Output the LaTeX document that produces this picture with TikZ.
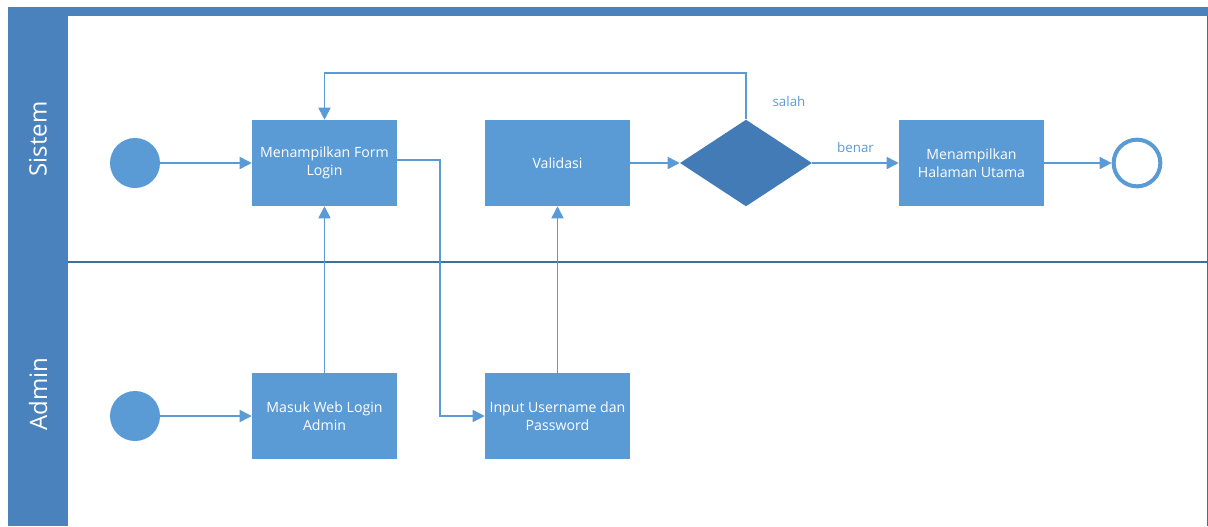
\documentclass[tikz,border=0pt]{standalone}
\usepackage{fontspec}
\setmainfont{Open Sans}
\usetikzlibrary{positioning, shapes.geometric, arrows.meta}
\definecolor{lanehead}{HTML}{4A82BD}
\definecolor{boxblue}{HTML}{5B9BD5}
\definecolor{decblue}{HTML}{427BB5}
\definecolor{linkblue}{HTML}{5B9BD5}
\definecolor{divline}{HTML}{3F6F9A}

\tikzset{
  proc/.style={draw=none, fill=boxblue, minimum width=108.75pt, minimum height=64.5pt,
    inner sep=1pt, align=center, text=white, font=\fontsize{10.6}{13.5}\selectfont},
  startev/.style={circle, fill=boxblue, minimum size=37.5pt, inner sep=0pt},
  endev/.style={circle, draw=boxblue, line width=3pt, fill=white, minimum size=35pt, inner sep=0pt},
  decision/.style={diamond, fill=decblue, minimum width=99pt, minimum height=65pt, inner sep=0pt},
  flow/.style={draw=linkblue, line width=1.2pt, -{Triangle[length=9pt,width=9pt]}},
  lanelabel/.style={rotate=90, text=white, font=\fontsize{18}{21}\selectfont},
  guard/.style={text=linkblue, font=\fontsize{10}{12}\selectfont}
}

\begin{document}
\begin{tikzpicture}[x=0.75pt, y=-0.75pt]
  \useasboundingbox[fill=white] (0,0) rectangle (1208,526);
  % pool frame
  \fill[lanehead] (8,7) rectangle (1208,16);
  \fill[lanehead] (8,7) rectangle (68,526);
  \draw[divline, line width=0.8pt] (68,262) -- (1208,262);
  \draw[divline, line width=0.6pt] (1207.5,16) -- (1207.5,526);
  \node[lanelabel] (sistem) at (38,139) {Sistem};
  \node[lanelabel] (admin) at (38,394) {Admin};

  % Sistem lane
  \node[startev] (s0) at (135,163) {};
  \node[proc] (form) at (324.5,163) {Menampilkan Form\\Login};
  \node[proc] (valid) at (557.5,163) {Validasi};
  \node[decision] (cek) at (746,163) {};
  \node[proc] (home) at (971.5,163) {Menampilkan\\Halaman Utama};
  \node[endev] (s1) at (1137,163) {};

  % Admin lane
  \node[startev] (a0) at (135,416) {};
  \node[proc] (masuk) at (324.5,416) {Masuk Web Login\\Admin};
  \node[proc] (input) at (557.5,416) {Input Username dan\\Password};

  \coordinate (loop) at (746,73);
  \draw[flow] (s0) -- (form);
  \draw[flow] (valid) -- (cek);
  \draw[flow] (cek) -- node[guard, above=4pt] {benar} (home);
  \draw[flow] (home) -- (s1);
  \draw[flow] (cek.north) -- (loop) -| (form.north);
  \node[guard] (salah) at (789,101) {salah};
  \draw[flow] (a0) -- (masuk);
  \draw[flow] (masuk) -- (form);
  \draw[flow] (form.east) ++(0,-3) coordinate (fo) -| (440,416) -- (input.west);
  \draw[flow] (input) -- (valid);
\end{tikzpicture}
\end{document}
